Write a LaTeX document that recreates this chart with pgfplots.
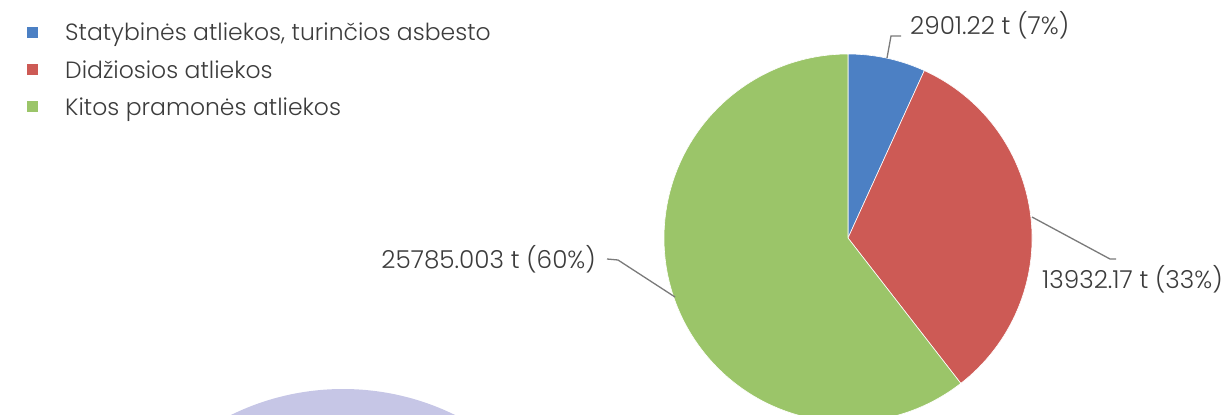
\documentclass[border=0pt]{standalone}
\usepackage{pgfplots}
\pgfplotsset{compat=1.18}
\usepackage{fontspec}
\setmainfont{Poppins}[UprightFont=* Light]
\definecolor{cblue}{HTML}{4C80C4}
\definecolor{cred}{HTML}{CD5A55}
\definecolor{cgreen}{HTML}{9BC569}
\definecolor{lav}{HTML}{C6C6E6}
\definecolor{txt}{HTML}{3C3C3C}
\definecolor{lead}{HTML}{7A7A7A}
% data (t)
\def\va{2901.22}
\def\vb{13932.17}
\def\vc{25785.003}
\edef\aa{\fpeval{\va/(\va+\vb+\vc)*360}}
\edef\ab{\fpeval{\vb/(\va+\vb+\vc)*360}}
\edef\eA{\fpeval{90-\aa}}
\edef\eB{\fpeval{90-\aa-\ab}}
\newcommand\lbl{\fontsize{24.7bp}{29bp}\selectfont\color{txt}}
\newcommand\lgd{\fontsize{23.5bp}{28bp}\selectfont\color{txt}}
\begin{document}
\begin{tikzpicture}
\begin{axis}[
  width=1230bp, height=414bp, scale only axis,
  xmin=0, xmax=1230, ymin=0, ymax=414, y dir=reverse,
  axis lines=none, clip=true,
  legend image code/.code={\path[draw=none,fill=none] (0bp,0bp) -- (26bp,0bp);\fill[#1,draw=none] (0bp,-5bp) rectangle (11bp,6bp);},
  legend style={at={(axis cs:27,22)}, anchor=north west, draw=none, fill=none,
    font=\lgd, row sep=16bp, inner sep=0pt,
    nodes={inner xsep=12bp, inner ysep=1bp}},
  legend cell align=left,
]
\addlegendimage{cblue}
\addlegendentry{Statybinės atliekos, turinčios asbesto}
\addlegendimage{cred}
\addlegendentry{Didžiosios atliekos}
\addlegendimage{cgreen}
\addlegendentry{Kitos pramonės atliekos}
\coordinate (SW) at (axis cs:0,414);
\coordinate (NE) at (axis cs:1230,0);
% decorative circle
\fill[lav] (axis cs:343,643) circle[radius=254bp];
% pie
\filldraw[fill=cblue, draw=white, line width=0.6bp] (axis cs:848,238) -- ++(90:184bp) arc[start angle=90, end angle=\eA, radius=184bp] -- cycle;
\filldraw[fill=cred, draw=white, line width=0.6bp] (axis cs:848,238) -- ++(\eA:184bp) arc[start angle=\eA, end angle=\eB, radius=184bp] -- cycle;
\filldraw[fill=cgreen, draw=white, line width=0.6bp] (axis cs:848,238) -- ++(\eB:184bp) arc[start angle=\eB, end angle=-270, radius=184bp] -- cycle;
% leaders
\draw[lead, line width=1.3bp] (axis cs:887,58) -- (axis cs:891,36) -- (axis cs:901,36);
\draw[lead, line width=1.3bp] (axis cs:1032,217) -- (axis cs:1110,259) -- (axis cs:1116,259);
\draw[lead, line width=1.3bp] (axis cs:607,259) -- (axis cs:618,260) -- (axis cs:675,297);
% labels
\node[anchor=west, inner sep=0pt, font=\lbl] at (axis cs:910,25) {2901.22 t (7\%)};
\node[anchor=west, inner sep=0pt, font=\lbl] at (axis cs:1042,279) {13932.17 t (33\%)};
\node[anchor=east, inner sep=0pt, font=\lbl] at (axis cs:596,259) {25785.003 t (60\%)};
\end{axis}
\pgfresetboundingbox
\path[use as bounding box] (SW) rectangle (NE);
\end{tikzpicture}
\end{document}
